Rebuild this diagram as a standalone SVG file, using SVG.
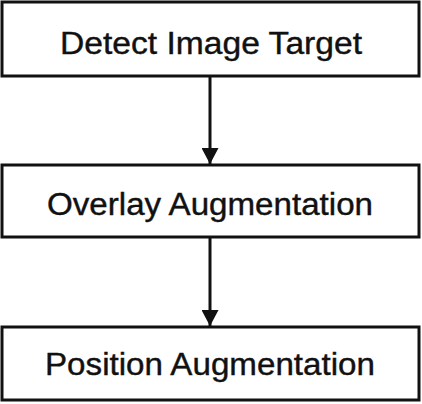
<svg xmlns="http://www.w3.org/2000/svg" width="422" height="404" viewBox="0 0 422 404">
  <style>
    .box { fill: #ffffff; stroke: #111111; stroke-width: 3; }
    .label { font-family: "Liberation Sans", Arial, sans-serif; font-size: 31px; fill: #111111; stroke: #111111; stroke-width: 0.4; text-anchor: middle; }
    .conn { stroke: #111111; stroke-width: 3; fill: none; }
  </style>
  <defs>
    <marker id="arrow" markerUnits="userSpaceOnUse" markerWidth="17" markerHeight="17" refX="16" refY="8.5" orient="auto">
      <path d="M0,0 L16,8.5 L0,17 Z" fill="#111111"/>
    </marker>
  </defs>
  <rect width="422" height="404" fill="#ffffff"/>
  <g id="node-detect">
    <rect class="box" x="2" y="2" width="417" height="74"/>
    <text class="label" x="211" y="54" textLength="302" lengthAdjust="spacingAndGlyphs">Detect Image Target</text>
  </g>
  <g id="node-overlay">
    <rect class="box" x="2" y="165" width="417" height="72"/>
    <text class="label" x="210" y="215" textLength="326" lengthAdjust="spacingAndGlyphs">Overlay Augmentation</text>
  </g>
  <g id="node-position">
    <rect class="box" x="2" y="327" width="417" height="73"/>
    <text class="label" x="210" y="375" textLength="330" lengthAdjust="spacingAndGlyphs">Position Augmentation</text>
  </g>
  <g id="connectors">
    <line class="conn" x1="210" y1="77" x2="210" y2="164" marker-end="url(#arrow)"/>
    <line class="conn" x1="210" y1="238" x2="210" y2="326" marker-end="url(#arrow)"/>
  </g>
</svg>
